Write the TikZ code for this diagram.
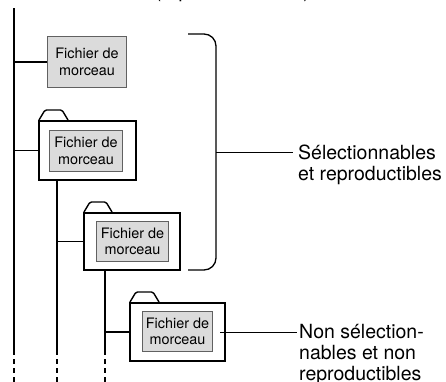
\documentclass[tikz,border=0pt]{standalone}
\usepackage{fontspec}
\setmainfont{TeX Gyre Heros}
\usetikzlibrary{calc}
\begin{document}
\begin{tikzpicture}[x=1pt,y=-1pt,
  conn/.style={line width=1.3pt},
  dashpart/.style={line width=1.3pt, dash pattern=on 5pt off 4pt, dash phase=5pt},
  folder/.style={draw, line width=2pt, fill=white, inner sep=0pt},
  filebox/.style={draw=black!62, fill=black!14, line width=1pt, align=center, inner sep=0pt,
    font=\fontsize{14.4}{16.5}\selectfont},
  tabline/.style={line width=1.4pt, rounded corners=1.5pt},
  lab/.style={anchor=base west, inner sep=0pt, font=\fontsize{19.5}{21}\selectfont}]
\useasboundingbox (0,0) rectangle (446,381);

% title (cut off at the top edge)
\node[lab, anchor=base east] (title) at (310,-3) {Mémoire flash USB (répertoire racine)};

% main vertical lines
\coordinate (Atop) at (14,8);
\coordinate (Aend) at (14,355);
\coordinate (Abot) at (14,382);
\coordinate (Bend) at (57,355);
\coordinate (Bbot) at (57,382);
\coordinate (Cend) at (105,355);
\coordinate (Cbot) at (105,382);

% file 1
\node[filebox, minimum width=79pt, minimum height=51pt] (file1) at (87,62) {Fichier de\\morceau};

% folder 2
\node[folder, minimum width=97pt, minimum height=59pt] (fold2) at (87.5,150.5) {};
\draw[tabline] ($(fold2.north west)+(1,0)$) -- ++(6,-10) -- ++(17,0) -- ++(6,10);
\node[filebox, minimum width=73pt, minimum height=41pt] (file2) at (86,151) {Fichier de\\morceau};

% folder 3
\node[folder, minimum width=96pt, minimum height=57pt] (fold3) at (132,241.5) {};
\draw[tabline] ($(fold3.north west)+(1,0)$) -- ++(6,-10) -- ++(16,0) -- ++(6,10);
\node[filebox, minimum width=72pt, minimum height=40pt] (file3) at (132.5,241.5) {Fichier de\\morceau};

% folder 4
\node[folder, minimum width=95pt, minimum height=58pt] (fold4) at (177.5,332) {};
\draw[tabline] ($(fold4.north west)+(1,0)$) -- ++(6,-10) -- ++(17,0) -- ++(6,10);
\node[filebox, minimum width=70pt, minimum height=40pt] (file4) at (177.5,331.5) {Fichier de\\morceau};

% tree lines
\draw[conn] (Atop) -- (Aend);
\draw[dashpart] (Aend) -- (Abot);
\draw[conn] (file1.west) -- (file1.west -| Atop);
\draw[conn] (fold2.west) -- (fold2.west -| Atop);
\draw[conn] (fold2.south -| Bend) -- (Bend);
\draw[dashpart] (Bend) -- (Bbot);
\draw[conn] (fold3.west) -- (fold3.west -| Bend);
\draw[conn] (fold3.south -| Cend) -- (Cend);
\draw[dashpart] (Cend) -- (Cbot);
\draw[conn] (fold4.west) -- (fold4.west -| Cend);

% labels
\node[lab] (lab1) at (298,159) {\vtop{\baselineskip=21pt\hbox{Sélectionnables}\hbox{et reproductibles}}};
\node[lab] (lab2) at (299,338.5) {\vtop{\baselineskip=21pt\hbox{Non sélection-}\hbox{nables et non}\hbox{reproductibles}}};

% bracket
\coordinate (br1) at (188,34);
\coordinate (br2) at (188,270);
\coordinate (brm) at (216,152.5);
\draw[conn, rounded corners=12pt] (br1) -- (216,34) -- (216,270) -- (br2);
\draw[conn] (brm) -- ($(lab1.base west)+(-5,-6.5)$);

% label 2 line
\coordinate (l2) at ($(lab2.base west)+(-2,-6)$);
\draw[conn] ($(file4.east |- l2)+(7,0)$) -- (l2);
\end{tikzpicture}
\end{document}
